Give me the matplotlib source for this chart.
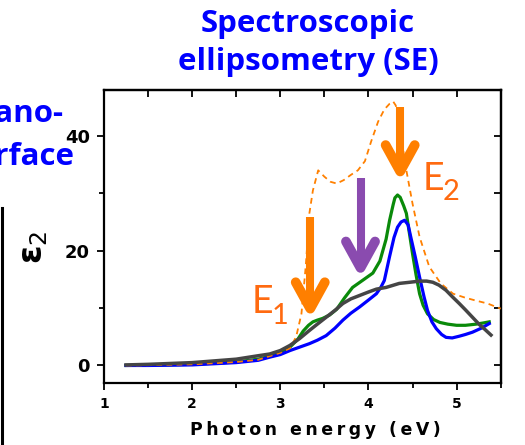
import matplotlib
matplotlib.use("Agg")
import matplotlib.pyplot as plt
from matplotlib.lines import Line2D
from matplotlib.ticker import MultipleLocator

# eps2 spectra
energy_ref = [1.25, 1.5, 2.0, 2.5, 2.75, 3.0, 3.11, 3.18, 3.24, 3.29, 3.33, 3.37, 3.43,
              3.5, 3.57, 3.64, 3.72, 3.8, 3.88, 3.96, 4.03, 4.11, 4.18, 4.24, 4.28,
              4.31, 4.35, 4.39, 4.43, 4.5, 4.58, 4.69, 4.82, 4.96, 5.1, 5.22, 5.35,
              5.45, 5.5]
eps2_ref = [0.0, 0.05, 0.2, 0.6, 1.0, 2.2, 3.0, 5.0, 9.0, 17.5, 26.5, 30.5, 34.0,
            32.9, 32.0, 31.7, 32.3, 33.2, 34.0, 35.6, 39.0, 42.5, 44.6, 45.6, 46.0,
            45.3, 42.5, 38.0, 34.0, 28.2, 22.4, 17.2, 14.3, 12.5, 11.8, 11.3, 10.8,
            10.2, 9.9]

energy_green = [1.25, 1.5, 2.0, 2.5, 2.75, 2.88, 3.0, 3.11, 3.2, 3.26, 3.32, 3.37,
                3.42, 3.48, 3.56, 3.64, 3.73, 3.82, 3.94, 4.05, 4.13, 4.2, 4.24,
                4.28, 4.3, 4.33, 4.36, 4.4, 4.43, 4.47, 4.5, 4.54, 4.58, 4.62, 4.67,
                4.74, 4.81, 4.9, 5.0, 5.1, 5.22, 5.3, 5.37]
eps2_green = [0.0, 0.05, 0.2, 0.6, 1.1, 1.6, 2.3, 3.2, 4.6, 6.0, 7.0, 7.6,
              7.9, 8.2, 8.8, 9.8, 11.8, 13.6, 14.9, 16.1, 18.2, 22.0, 25.3,
              28.0, 29.2, 29.7, 29.3, 27.8, 26.5, 22.5, 19.5, 15.8, 12.5, 10.5, 9.0,
              8.0, 7.5, 7.2, 7.0, 7.0, 7.2, 7.4, 7.6]

energy_blue = [1.25, 1.5, 2.0, 2.5, 2.75, 2.88, 3.0, 3.11, 3.22, 3.33, 3.42, 3.52,
               3.62, 3.71, 3.8, 3.9, 4.0, 4.09, 4.14, 4.18, 4.24, 4.29, 4.33, 4.37,
               4.41, 4.45, 4.48, 4.53, 4.58, 4.63, 4.67, 4.72, 4.77, 4.83, 4.88,
               4.95, 5.03, 5.1, 5.18, 5.28, 5.37]
eps2_blue = [0.0, 0.0, 0.1, 0.5, 0.9, 1.45, 1.9, 2.6, 3.2, 3.8, 4.4, 5.2,
             6.5, 7.9, 9.1, 10.2, 11.4, 12.5, 13.6, 14.8, 19.0, 22.3, 24.1, 25.0,
             25.3, 24.5, 22.4, 19.0, 15.4, 12.0, 9.6, 7.6, 6.4, 5.4, 4.9,
             4.8, 5.1, 5.4, 5.8, 6.5, 7.3]

energy_gray = [1.25, 1.5, 2.0, 2.5, 2.75, 2.88, 3.0, 3.11, 3.22, 3.33, 3.42, 3.52,
               3.62, 3.71, 3.8, 3.9, 4.0, 4.09, 4.2, 4.35, 4.47, 4.58, 4.66, 4.73,
               4.8, 4.88, 4.95, 5.03, 5.1, 5.18, 5.26, 5.32, 5.39]
eps2_gray = [0.1, 0.2, 0.5, 1.1, 1.7, 2.0, 2.6, 3.5, 4.7, 6.1, 7.2, 8.4,
             9.6, 10.8, 11.6, 12.2, 12.8, 13.3, 13.6, 14.3, 14.5, 14.7, 14.7, 14.5,
             14.0, 13.1, 12.0, 10.8, 9.7, 8.4, 7.1, 6.3, 5.3]

xticks = [1, 2, 3, 4, 5]
yticks = [0, 20, 40]

# transition markers: (energy, shaft top, tip, colour)
arrows = [
    (3.34, 25.8, 9.1, "#ff7f00"),
    (3.91, 32.7, 16.2, "#8a4baf"),
    (4.36, 45.1, 33.0, "#ff7f00"),
]

BLUE_TXT = "#0000ff"
E_COLOR = "#ff6a10"


def down_arrow(ax, x, top, tip, color):
    # chevron head, like the hand-drawn powerpoint arrows
    hw, hl, inset = 0.165, 4.6, 0.8
    v = tip + inset
    ax.plot([x, x], [top, v + 1.0], color=color, lw=5.8,
            solid_capstyle="butt", zorder=6)
    ax.plot([x - hw, x, x + hw], [v + hl, v, v + hl], color=color, lw=7,
            solid_capstyle="round", solid_joinstyle="round", zorder=6)


fig = plt.figure(figsize=(5.25, 4.45), dpi=100)
ax = fig.add_axes([0.198, 0.14, 0.7557, 0.6578])

ax.plot(energy_green, eps2_green, color="#0a8a0a", lw=2.3, zorder=3)
ax.plot(energy_blue, eps2_blue, color="#0000ff", lw=2.3, zorder=3)
ax.plot(energy_ref, eps2_ref, color="#ff8000", lw=1.3, ls=(0, (3.2, 2.4)), zorder=4)
ax.plot(energy_gray, eps2_gray, color="#454545", lw=2.5, zorder=5)

for x, top, tip, c in arrows:
    down_arrow(ax, x, top, tip, c)

txt = dict(family=["Lato", "DejaVu Sans"], color=E_COLOR, va="baseline")
ax.text(2.68, 9.1, "E", fontsize=27, **txt)
ax.text(2.90, 7.3, "1", fontsize=21, **txt)
ax.text(4.61, 30.5, "E", fontsize=27, **txt)
ax.text(4.84, 28.8, "2", fontsize=21, **txt)

ax.set_xlim(1, 5.5)
ax.set_ylim(-3, 48)
ax.set_xticks(xticks)
ax.set_yticks(yticks)
ax.xaxis.set_minor_locator(MultipleLocator(0.5))
ax.yaxis.set_minor_locator(MultipleLocator(10))
ax.tick_params(which="both", direction="out", width=1.3)
ax.tick_params(which="major", length=5)
ax.tick_params(which="minor", length=3.5)
ax.tick_params(axis="x", which="major", labelsize=10, pad=5)
ax.tick_params(axis="y", which="major", labelsize=13, pad=5)
for s in ax.spines.values():
    s.set_linewidth(1.6)
for lab in ax.get_xticklabels() + ax.get_yticklabels():
    lab.set_fontweight("bold")

# top/right ticks point inwards, no labels
top = ax.secondary_xaxis("top")
top.set_xticks(xticks)
top.xaxis.set_minor_locator(MultipleLocator(0.5))
top.tick_params(which="both", direction="in", length=5, width=1.3, labeltop=False)
right = ax.secondary_yaxis("right")
right.set_yticks(yticks)
right.yaxis.set_minor_locator(MultipleLocator(10))
right.tick_params(which="both", direction="in", length=5, width=1.3, labelright=False)
for sec in (top, right):
    for s in sec.spines.values():
        s.set_linewidth(1.6)

xlabel = "\u2009".join("Photon") + "\u2009 \u2009" + "\u2009".join("energy") \
    + "\u2009 \u2009" + "\u2009".join("(eV)")
ax.set_xlabel(xlabel, fontsize=12.5, fontweight="bold")
ax.xaxis.set_label_coords(0.534, -0.13)

fig.text(33 / 525, 1 - 247 / 445, "\u03b5$_2$", fontsize=24, fontweight="bold",
         rotation=90, ha="center", va="center")

ttl = dict(family=["Open Sans", "DejaVu Sans"], fontweight="bold", color=BLUE_TXT,
           fontsize=22.5, va="baseline")
fig.text(308 / 525, 1 - 32 / 445, "Spectroscopic", ha="center", **ttl)
fig.text(308 / 525, 1 - 70 / 445, "ellipsometry (SE)", ha="center", **ttl)
fig.text(63 / 525, 1 - 122 / 445, "Nano-", ha="right", **ttl)
fig.text(75 / 525, 1 - 165 / 445, "surface", ha="right", **ttl)

fig.add_artist(Line2D([1.5 / 525, 1.5 / 525], [0, 1 - 208 / 445],
                      transform=fig.transFigure, color="black", lw=2.2))

fig.savefig("out.png", dpi=100)
